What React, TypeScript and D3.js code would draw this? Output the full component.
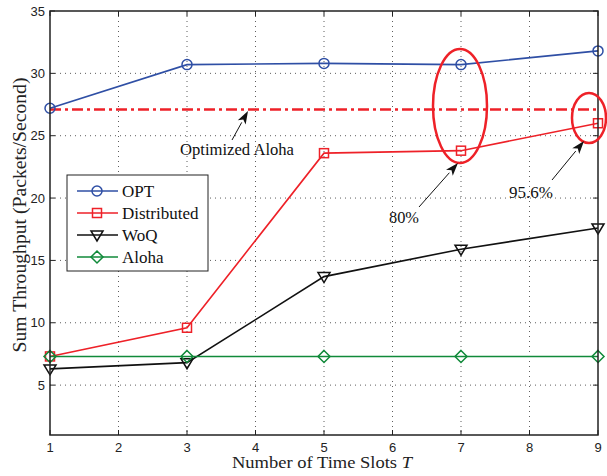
import React from "react";
import * as d3 from "d3";

const xs = [1, 3, 5, 7, 9];
const optVals = [27.2, 30.7, 30.8, 30.7, 31.8];
const distVals = [7.3, 9.6, 23.6, 23.8, 26.0];
const woqVals = [6.3, 6.8, 13.7, 15.9, 17.6];
const alohaVals = [7.3, 7.3, 7.3, 7.3, 7.3];
const optimizedAloha = 27.1;
const xTicks = [1, 2, 3, 4, 5, 6, 7, 8, 9];
const yTicks = [5, 10, 15, 20, 25, 30, 35];

const W = 607, H = 476;
const L = 50, R = 598, T = 11, B = 435;

export default function App() {
  const x = d3.scaleLinear().domain([1, 9]).range([L, R]);
  const y = d3.scaleLinear().domain([1, 35]).range([B, T]);
  const line = d3.line<number>().x((_, i) => x(xs[i])).y((d) => y(d));

  const series = [
    { name: "OPT", vals: optVals, color: "#2f4fa5", marker: "circle" },
    { name: "Distributed", vals: distVals, color: "#ee2128", marker: "square" },
    { name: "WoQ", vals: woqVals, color: "#111111", marker: "tri" },
    { name: "Aloha", vals: alohaVals, color: "#108a3a", marker: "diamond" },
  ];

  const marker = (m: string, cx: number, cy: number, c: string, key: string) => {
    if (m === "circle") return <circle key={key} cx={cx} cy={cy} r={5} fill="none" stroke={c} strokeWidth={1.5} />;
    if (m === "square") return <rect key={key} x={cx - 4.5} y={cy - 4.5} width={9} height={9} fill="none" stroke={c} strokeWidth={1.5} />;
    if (m === "tri") return <path key={key} d={`M${cx - 6},${cy - 4} L${cx + 6},${cy - 4} L${cx},${cy + 6} Z`} fill="none" stroke={c} strokeWidth={1.5} />;
    return <path key={key} d={`M${cx},${cy - 6} L${cx + 6},${cy} L${cx},${cy + 6} L${cx - 6},${cy} Z`} fill="none" stroke={c} strokeWidth={1.5} />;
  };

  const arrow = (x1: number, y1: number, x2: number, y2: number, key: string) => {
    const ang = Math.atan2(y2 - y1, x2 - x1);
    const len = 13, wid = 4.5;
    const bx = x2 - len * Math.cos(ang), by = y2 - len * Math.sin(ang);
    const px = -Math.sin(ang) * wid, py = Math.cos(ang) * wid;
    return (
      <g key={key}>
        <line x1={x1} y1={y1} x2={bx} y2={by} stroke="#111" strokeWidth={1} />
        <path d={`M${x2},${y2} L${bx + px},${by + py} L${bx + (x2 - bx) * 0.25},${by + (y2 - by) * 0.25} L${bx - px},${by - py} Z`} fill="#111" />
      </g>
    );
  };

  const tickFont = "'Liberation Sans', Arial, sans-serif";
  const serif = "'Liberation Serif', 'Times New Roman', serif";

  return (
    <svg width={W} height={H} style={{ position: "absolute", left: 0, top: 0, background: "#fff" }}>
      <rect x={0} y={0} width={W} height={H} fill="#fff" />
      {/* grid */}
      {xTicks.slice(1, -1).map((t) => (
        <line key={"gx" + t} x1={x(t)} x2={x(t)} y1={T} y2={B} stroke="#333" strokeWidth={0.8} strokeDasharray="1,4" />
      ))}
      {yTicks.slice(0, -1).map((t) => (
        <line key={"gy" + t} x1={L} x2={R} y1={y(t)} y2={y(t)} stroke="#333" strokeWidth={0.8} strokeDasharray="1,4" />
      ))}
      {/* ticks */}
      {xTicks.map((t) => (
        <g key={"tx" + t}>
          <line x1={x(t)} x2={x(t)} y1={B} y2={B - 5} stroke="#222" />
          <line x1={x(t)} x2={x(t)} y1={T} y2={T + 5} stroke="#222" />
          <text x={x(t)} y={B + 17} textAnchor="middle" fontFamily={tickFont} fontSize={13} fill="#222">{t}</text>
        </g>
      ))}
      {yTicks.map((t) => (
        <g key={"ty" + t}>
          <line x1={L} x2={L + 5} y1={y(t)} y2={y(t)} stroke="#222" />
          <line x1={R} x2={R - 5} y1={y(t)} y2={y(t)} stroke="#222" />
          <text x={L - 5} y={y(t) + 4.5} textAnchor="end" fontFamily={tickFont} fontSize={13} fill="#222">{t}</text>
        </g>
      ))}
      {/* optimized aloha */}
      <line x1={L} x2={R} y1={y(optimizedAloha)} y2={y(optimizedAloha)} stroke="#ee2128" strokeWidth={2.5} strokeDasharray="11,4,3,4" />
      {/* series */}
      {series.map((s) => (
        <g key={s.name}>
          <path d={line(s.vals) || ""} fill="none" stroke={s.color} strokeWidth={1.6} />
          {s.vals.map((v, i) => marker(s.marker, x(xs[i]), y(v), s.color, s.name + i))}
        </g>
      ))}
      {/* axes box */}
      <rect x={L} y={T} width={R - L} height={B - T} fill="none" stroke="#222" strokeWidth={1.5} />
      {/* ellipses */}
      <ellipse cx={460} cy={106} rx={27} ry={57} fill="none" stroke="#ee2128" strokeWidth={2.5} />
      <ellipse cx={589} cy={118} rx={17} ry={25} fill="none" stroke="#ee2128" strokeWidth={2.5} />
      {/* annotations */}
      {arrow(232, 140, 248, 111, "a1")}
      <text x={180} y={155} textLength={114} lengthAdjust="spacingAndGlyphs" fontFamily={serif} fontSize={17} fill="#111">Optimized Aloha</text>
      {arrow(419, 207, 458, 163, "a2")}
      <text x={389} y={223} textLength={30} lengthAdjust="spacingAndGlyphs" fontFamily={serif} fontSize={17} fill="#111">80%</text>
      {arrow(552, 180, 584, 141, "a3")}
      <text x={509} y={198} textLength={44} lengthAdjust="spacingAndGlyphs" fontFamily={serif} fontSize={17} fill="#111">95.6%</text>
      {/* legend */}
      <rect x={67} y={175} width={141} height={96} fill="#fff" stroke="#222" strokeWidth={1} />
      {series.map((s, i) => {
        const ly = 191 + i * 22;
        return (
          <g key={"lg" + s.name}>
            <line x1={77} x2={118} y1={ly} y2={ly} stroke={s.color} strokeWidth={1.6} />
            {marker(s.marker, 97, ly, s.color, "lm" + i)}
            <text x={122} y={ly + 6} fontFamily={serif} fontSize={17} fill="#111">{s.name}</text>
          </g>
        );
      })}
      {/* axis labels */}
      <text x={232} y={468} textLength={180} lengthAdjust="spacingAndGlyphs" fontFamily={serif} fontSize={16} fill="#222">
        Number of Time Slots <tspan fontStyle="italic">T</tspan>
      </text>
      <text transform={`translate(26,215) rotate(-90)`} textAnchor="middle" textLength={275} lengthAdjust="spacingAndGlyphs" fontFamily={serif} fontSize={18} fill="#222">
        Sum Throughput (Packets/Second)
      </text>
    </svg>
  );
}
